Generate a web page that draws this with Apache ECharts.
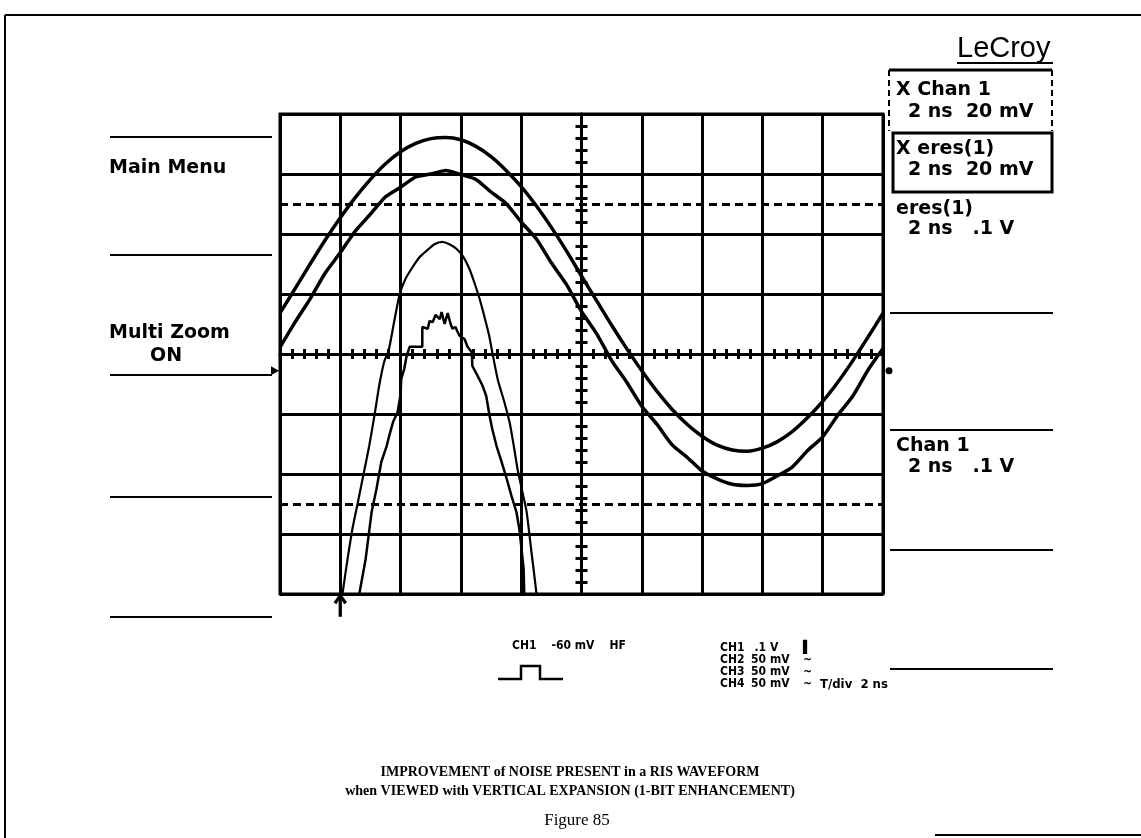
<!DOCTYPE html>
<html>
<head>
<meta charset="utf-8">
<title>Figure 85 - RIS waveform, vertical expansion</title>
<script src="https://cdn.jsdelivr.net/npm/echarts@6/dist/echarts.min.js"></script>
<style>
  html, body { margin: 0; padding: 0; background: #fff; }
  #chart { width: 1141px; height: 838px; }
</style>
</head>
<body>
<div id="chart"></div>
<script>
// horizontal position in screen divisions (0 = centre), 2 ns/div
const timeDiv = [-5, -4.75, -4.5, -4.25, -4, -3.75, -3.5, -3.25, -3, -2.75, -2.5, -2.25, -2, -1.75, -1.5, -1.25, -1, -0.75, -0.5, -0.25,
  0, 0.25, 0.5, 0.75, 1, 1.25, 1.5, 1.75, 2, 2.25, 2.5, 2.75, 3, 3.25, 3.5, 3.75, 4, 4.25, 4.5, 4.75, 5]

// Chan 1, .1 V/div (upper thick trace), in divisions
const chan1 = [0.68, 1.09, 1.50, 1.90, 2.27, 2.61, 2.91, 3.17, 3.37, 3.51, 3.59, 3.61, 3.57, 3.46, 3.29, 3.06, 2.79, 2.47, 2.11, 1.72,
  1.30, 0.89, 0.48, 0.09, -0.28, -0.62, -0.92, -1.17, -1.37, -1.52, -1.60, -1.62, -1.57, -1.46, -1.29, -1.06, -0.79, -0.47, -0.11, 0.28, 0.68]

// eres(1), .1 V/div (lower noisy trace)
const eres1 = [0.11, 0.53, 0.92, 1.35, 1.69, 2.05, 2.33, 2.62, 2.78, 2.95, 3.00, 3.06, 2.99, 2.91, 2.70, 2.51, 2.20, 1.92, 1.52, 1.16,
  0.71, 0.34, -0.11, -0.47, -0.87, -1.17, -1.51, -1.72, -1.95, -2.08, -2.17, -2.19, -2.16, -2.03, -1.88, -1.61, -1.38, -1.02, -0.70, -0.27, 0.09]

// X Chan 1, 20 mV/div, [div, div]
const xChan1 = [[-4.02, -4.40], [-3.96, -3.97], [-3.88, -3.42], [-3.80, -2.92], [-3.71, -2.48], [-3.63, -2.08], [-3.52, -1.53],
  [-3.43, -1.00], [-3.35, -0.50], [-3.27, -0.12], [-3.20, 0.05], [-3.11, 0.52], [-3.02, 0.98], [-2.92, 1.25], [-2.80, 1.45],
  [-2.68, 1.62], [-2.57, 1.72], [-2.44, 1.83], [-2.31, 1.87], [-2.19, 1.83], [-2.07, 1.75], [-1.96, 1.62], [-1.86, 1.42],
  [-1.78, 1.20], [-1.69, 0.92], [-1.61, 0.62], [-1.53, 0.30], [-1.48, 0.03], [-1.39, -0.42], [-1.28, -0.80], [-1.19, -1.15],
  [-1.12, -1.55], [-1.06, -1.92], [-0.98, -2.30], [-0.91, -2.63], [-0.83, -3.30], [-0.75, -3.97], [-0.72, -4.40]]

// X eres(1), 20 mV/div, 1-bit steps on top
const xEres1 = [[-3.70, -4.40], [-3.68, -3.97], [-3.58, -3.42], [-3.48, -2.63], [-3.40, -2.25], [-3.32, -1.80], [-3.23, -1.53],
  [-3.18, -1.33], [-3.12, -1.12], [-3.05, -0.97], [-3.00, -0.67], [-2.99, -0.42], [-2.94, -0.25], [-2.90, -0.03], [-2.85, 0.12],
  [-2.64, 0.12], [-2.64, 0.45], [-2.55, 0.42], [-2.52, 0.55], [-2.47, 0.53], [-2.42, 0.65], [-2.35, 0.58], [-2.32, 0.70],
  [-2.27, 0.50], [-2.22, 0.68], [-2.17, 0.50], [-2.14, 0.42], [-2.09, 0.45], [-2.06, 0.38], [-2.02, 0.30], [-1.94, 0.25],
  [-1.89, 0.12], [-1.82, 0.03], [-1.81, -0.20], [-1.72, -0.37], [-1.64, -0.53], [-1.58, -0.70], [-1.53, -1.00], [-1.48, -1.25],
  [-1.41, -1.53], [-1.33, -1.78], [-1.24, -2.08], [-1.16, -2.37], [-1.08, -2.63], [-1.03, -2.92], [-1.00, -3.20], [-0.96, -3.58],
  [-0.95, -3.97], [-0.94, -4.40]]

const dashLevels = [2.5, -2.5]
const triggerPos = -4
const groundLevel = -0.28

const leftMenu = ['Main Menu', 'Multi Zoom', 'ON']
const chanRows = [['CH1', '.1', 'V', '\u258c'], ['CH2', '50', 'mV', '~'], ['CH3', '50', 'mV', '~'], ['CH4', '50', 'mV', '~']]
const caption = ['IMPROVEMENT of NOISE PRESENT in a RIS WAVEFORM', 'when VIEWED with VERTICAL EXPANSION (1-BIT ENHANCEMENT)']

const black = '#000'
const screenFont = 'bold 19px "DejaVu Sans"'
const smallFont = 'bold 12px "DejaVu Sans Condensed", "DejaVu Sans"'
const captionFont = 'bold 14px "Liberation Serif"'

const pairs = (xs, ys) => xs.map((x, i) => [x, ys[i]])

const txt = (x, y, text, font, align) => ({
  type: 'text', x, y, z: 10,
  style: {text, font, fill: black, textAlign: align || 'left', align: align || 'left', textVerticalAlign: 'middle', verticalAlign: 'middle'}
})
const seg = (x1, y1, x2, y2, w, dash) => ({
  type: 'line', z: 10, shape: {x1, y1, x2, y2},
  style: {stroke: black, lineWidth: w || 2, lineDash: dash || null}
})

const axisLineStyle = {color: black, width: 3}

const makeX = (pos, idx, split) => ({
  type: 'value', min: -5, max: 5, interval: 1, position: pos,
  axisLine: {show: true, onZero: true, onZeroAxisIndex: idx, lineStyle: axisLineStyle},
  axisTick: {show: true, length: 5, lineStyle: axisLineStyle},
  minorTick: {show: true, splitNumber: 5, length: 5, lineStyle: axisLineStyle},
  axisLabel: {show: false},
  splitLine: {show: split, lineStyle: axisLineStyle},
  minorSplitLine: {show: false}
})
const makeY = (pos, idx, split) => ({
  type: 'value', min: -4, max: 4, interval: 1, position: pos,
  axisLine: {show: true, onZero: true, onZeroAxisIndex: idx, lineStyle: axisLineStyle},
  axisTick: {show: true, length: 6, lineStyle: axisLineStyle},
  minorTick: {show: true, splitNumber: 5, length: 6, lineStyle: axisLineStyle},
  axisLabel: {show: false},
  splitLine: {show: split, lineStyle: axisLineStyle},
  minorSplitLine: {show: false}
})

const trace = (name, data, width, smooth) => ({
  name, type: 'line', data, symbol: 'none', smooth, clip: true,
  lineStyle: {color: black, width}, z: 5, silent: true
})

const graphic = [
  // page frame
  seg(5, 15, 1141, 15, 2), seg(5, 15, 5, 838, 2), seg(935, 835, 1141, 835, 2),
  // LeCroy logo
  txt(957, 49, 'LeCroy', '29px "Liberation Sans"'), seg(957, 63, 1053, 63, 2),
  // left soft-key menu
  seg(110, 137, 272, 137), seg(110, 255, 272, 255), seg(110, 375, 272, 375), seg(110, 497, 272, 497), seg(110, 617, 272, 617),
  txt(109, 168, leftMenu[0], screenFont), txt(109, 333, leftMenu[1], screenFont), txt(150, 356, leftMenu[2], screenFont),
  // right soft-key menu
  seg(889, 70, 1052, 70, 3), seg(889, 70, 889, 131, 2, [6, 4]), seg(1052, 70, 1052, 131, 2, [6, 4]),
  {type: 'rect', z: 10, shape: {x: 893, y: 133, width: 159, height: 59}, style: {fill: 'none', stroke: black, lineWidth: 3}},
  txt(896, 90, 'X Chan 1', screenFont), txt(908, 112, '2 ns  20 mV', screenFont),
  txt(896, 149, 'X eres(1)', screenFont), txt(908, 170, '2 ns  20 mV', screenFont),
  txt(896, 209, 'eres(1)', screenFont), txt(908, 229, '2 ns   .1 V', screenFont),
  txt(896, 446, 'Chan 1', screenFont), txt(908, 467, '2 ns   .1 V', screenFont),
  seg(890, 313, 1053, 313), seg(890, 430, 1053, 430), seg(890, 550, 1053, 550), seg(890, 669, 1053, 669),
  // trigger status
  txt(512, 646, 'CH1    -60 mV    HF', smallFont),
  {type: 'polyline', z: 10, shape: {points: [[498, 679], [521, 679], [521, 666], [540, 666], [540, 679], [563, 679]]},
    style: {fill: 'none', stroke: black, lineWidth: 2.5}},
  // channel settings
  ...chanRows.flatMap((r, i) => [
    txt(720, 648 + i * 12, r[0], smallFont), txt(766, 648 + i * 12, r[1], smallFont, 'right'),
    txt(770, 648 + i * 12, r[2], smallFont), txt(803, 648 + i * 12, r[3], smallFont)
  ]),
  txt(820, 685, 'T/div  2 ns', 'bold 13px "DejaVu Sans Condensed", "DejaVu Sans"'),
  // caption
  txt(570, 772, caption[0], captionFont, 'center'),
  txt(570, 791, caption[1], captionFont, 'center'),
  txt(577, 821, 'Figure 85', '17px "Liberation Serif"', 'center')
]

const option = {
  animation: false,
  backgroundColor: '#fff',
  grid: {left: 280, top: 114, width: 603, height: 480, show: true, borderColor: black, borderWidth: 3},
  xAxis: [makeX('bottom', 0, true), makeX('top', 1, false)],
  yAxis: [makeY('left', 0, true), makeY('right', 1, false)],
  series: [
    {
      ...trace('Chan 1', pairs(timeDiv, chan1), 3.5, 0.3),
      markLine: {
        silent: true, symbol: 'none', label: {show: false},
        lineStyle: {color: black, width: 3, type: [8, 5]},
        data: dashLevels.map(v => ({yAxis: v}))
      }
    },
    trace('eres(1)', pairs(timeDiv, eres1), 3.5, 0.2),
    trace('X Chan 1', xChan1, 2.2, 0.2),
    trace('X eres(1)', xEres1, 2.5, false),
    {
      name: 'markers', type: 'line', data: [], clip: false, silent: true,
      markPoint: {
        silent: true, label: {show: false},
        itemStyle: {color: black},
        data: [
          {coord: [triggerPos, -4], symbol: 'path://M6,0 L12,8 L10,9.5 L7.3,5 L7.3,22 L4.7,22 L4.7,5 L2,9.5 L0,8 Z',
            symbolSize: [12, 22], symbolOffset: [0, '50%'], symbolKeepAspect: false,
            itemStyle: {color: black, borderColor: black, borderWidth: 1}},
          {coord: [-5, groundLevel], symbol: 'triangle', symbolSize: [9, 8], symbolRotate: -90, symbolOffset: [-5, 0]},
          {coord: [5, groundLevel], symbol: 'circle', symbolSize: 7, symbolOffset: [6, 0]}
        ]
      }
    }
  ],
  graphic
}

const chart = echarts.init(document.getElementById('chart'))
chart.setOption(option)
window.addEventListener('resize', () => chart.resize())
</script>
</body>
</html>
